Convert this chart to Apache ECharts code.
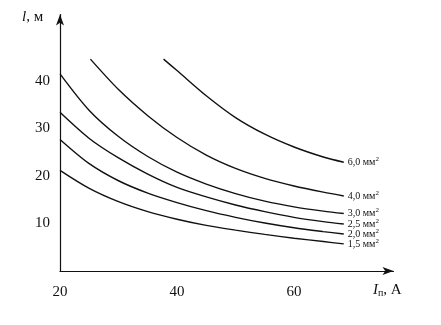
<!DOCTYPE html>
<html>
<head>
<meta charset="utf-8">
<script src="https://cdn.jsdelivr.net/npm/echarts@6/dist/echarts.min.js"></script>
<style>
  html, body { margin: 0; padding: 0; background: #fff; }
  #chart { width: 441px; height: 325px; }
</style>
</head>
<body>
<div id="chart"></div>
<script>
// Permissible cable length l (m) against current I (A), per conductor cross-section
const currentFull = [20, 25, 30, 35, 40, 45, 50, 55, 60, 65, 68.5];
const current40 = [25.2, 30, 35, 40, 45, 50, 55, 60, 65, 68.5];
const current60 = [37.7, 40, 45, 50, 55, 60, 65, 68.5];

const length15 = [21.2, 17.4, 14.6, 12.5, 10.9, 9.6, 8.6, 7.7, 6.9, 6.2, 5.7];
const length20 = [27.7, 22.6, 19.0, 16.4, 14.4, 12.7, 11.3, 10.1, 9.1, 8.3, 7.8];
const length25 = [33.4, 27.9, 23.8, 20.4, 17.6, 15.6, 13.9, 12.5, 11.3, 10.4, 9.9];
const length30 = [41.5, 33.8, 28.3, 24.1, 20.8, 18.3, 16.3, 14.7, 13.5, 12.6, 12.1];
const length40 = [44.6, 38.2, 32.7, 28.1, 24.4, 21.6, 19.5, 17.9, 16.6, 15.8];
const length60 = [44.6, 42.2, 36.9, 32.3, 28.8, 26.1, 24.0, 22.9];

const sectionLabels = ['1,5', '2,0', '2,5', '3,0', '4,0', '6,0'];
const xTicks = [20, 40, 60];
const yTicks = [10, 20, 30, 40];

const curves = [
  [currentFull, length15],
  [currentFull, length20],
  [currentFull, length25],
  [currentFull, length30],
  [current40, length40],
  [current60, length60]
];

const serif = '"Liberation Serif", "DejaVu Serif", serif';

const series = curves.map(([xs, ys], i) => ({
  type: 'line',
  smooth: 0.3,
  showSymbol: false,
  symbol: 'none',
  silent: true,
  lineStyle: { color: '#111', width: 1.4 },
  data: xs.map((x, k) => [x, ys[k]]),
  endLabel: {
    show: true,
    distance: 4,
    formatter: sectionLabels[i] + ' мм{s|2}',
    color: '#111',
    fontFamily: serif,
    fontSize: 10,
    rich: {
      s: { fontSize: 7, fontFamily: serif, color: '#111', padding: [0, 0, 6, 0] }
    }
  }
}));

const chart = echarts.init(document.getElementById('chart'), null, { renderer: 'canvas' });
chart.setOption({
  animation: false,
  backgroundColor: '#fff',
  grid: { left: 60, right: 47.5, top: 14.5, bottom: 54 },
  xAxis: {
    type: 'value',
    min: 20,
    max: 77,
    interval: 20,
    axisLine: {
      show: true,
      lineStyle: { color: '#111', width: 1.2 },
      symbol: ['none', 'arrow'],
      symbolSize: [6, 11]
    },
    axisTick: { show: false },
    splitLine: { show: false },
    axisLabel: {
      margin: 14,
      color: '#111',
      fontFamily: serif,
      fontSize: 15,
      formatter: v => (xTicks.includes(v) ? String(v) : '')
    }
  },
  yAxis: {
    type: 'value',
    min: 0,
    max: 54,
    interval: 10,
    axisLine: {
      show: true,
      lineStyle: { color: '#111', width: 1.2 },
      symbol: ['none', 'arrow'],
      symbolSize: [6, 11]
    },
    axisTick: { show: false },
    splitLine: { show: false },
    axisLabel: {
      margin: 10,
      color: '#111',
      fontFamily: serif,
      fontSize: 15,
      formatter: v => (yTicks.includes(v) ? String(v) : '')
    }
  },
  graphic: [
    {
      type: 'text',
      left: 22,
      top: 10,
      style: {
        text: '{i|l}, м',
        fontFamily: serif,
        fontSize: 15,
        fill: '#111',
        rich: { i: { fontStyle: 'italic', fontFamily: serif, fontSize: 15 } }
      }
    },
    {
      type: 'text',
      left: 373,
      top: 283,
      style: {
        text: '{i|I}{sub|п}, А',
        fontFamily: serif,
        fontSize: 15,
        fill: '#111',
        rich: {
          i: { fontStyle: 'italic', fontFamily: serif, fontSize: 15 },
          sub: { fontFamily: serif, fontSize: 10, padding: [6, 0, 0, 0] }
        }
      }
    }
  ],
  series: series
});
</script>
</body>
</html>
